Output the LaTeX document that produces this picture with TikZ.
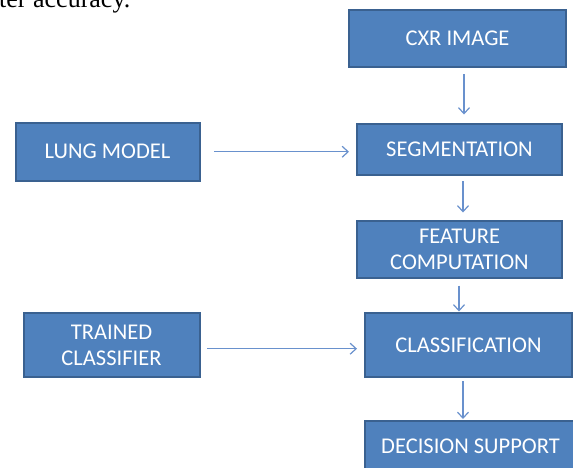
\documentclass[tikz,border=0pt]{standalone}
\usepackage{fontspec}
\setmainfont{Carlito}
\newfontfamily\serifcut{Liberation Serif}
\usetikzlibrary{arrows.meta}
\definecolor{boxfill}{HTML}{4F81BD}
\definecolor{boxline}{HTML}{3A6190}
\definecolor{arrcol}{RGB}{105,145,205}
\tikzset{
  blk/.style={draw=boxline, line width=2pt, fill=boxfill, text=white, align=center,
    inner sep=0pt, font=\fontsize{22.5}{26}\selectfont},
  arr/.style={draw=arrcol, line width=1.2pt, -{Straight Barb[length=6pt,width=11pt]}}
}
\begin{document}
\begin{tikzpicture}[x=1pt,y=-1pt]
\useasboundingbox (0,0) rectangle (573,467);
\clip (0,0) rectangle (573,467);
\node[anchor=base west, inner sep=0pt, font=\serifcut\fontsize{26}{30}\selectfont] (cut) at (-1,7.5) {ter accuracy.};
\node[blk, minimum width=217pt, minimum height=57pt] (cxr) at (457.5,38.5) {CXR IMAGE};
\node[blk, minimum width=205pt, minimum height=51pt] (seg) at (459.5,149) {SEGMENTATION};
\node[blk, minimum width=184pt, minimum height=57.5pt] (lung) at (107.5,151.75) {LUNG MODEL};
\node[blk, minimum width=205pt, minimum height=57pt] (feat) at (459.5,249.5) {FEATURE\\COMPUTATION};
\node[blk, minimum width=207pt, minimum height=64pt] (cls) at (468.5,345) {CLASSIFICATION};
\node[blk, minimum width=176pt, minimum height=64pt] (trn) at (111.5,345) {TRAINED\\CLASSIFIER};
\node[blk, minimum width=212pt, minimum height=52pt] (dec) at (470.5,446.5) {DECISION SUPPORT};
\draw[arr] ([xshift=6.5pt,yshift=-6pt]cxr.south) -- ([xshift=4.5pt,yshift=8pt]seg.north);
\draw[arr] ([xshift=13.5pt]lung.east) -- ([xshift=-7pt,yshift=-2.75pt]seg.west);
\draw[arr] ([xshift=3.5pt,yshift=-5.5pt]seg.south) -- ([xshift=3.5pt,yshift=7.5pt]feat.north);
\draw[arr] ([xshift=-0.5pt,yshift=-6.5pt]feat.south) -- ([xshift=-9.5pt,yshift=0.5pt]cls.north);
\draw[arr] ([xshift=6.5pt,yshift=-3.7pt]trn.east) -- ([xshift=-7pt,yshift=-3.7pt]cls.west);
\draw[arr] ([xshift=-5.5pt,yshift=-3pt]cls.south) -- ([xshift=-7.5pt,yshift=0.5pt]dec.north);
\end{tikzpicture}
\end{document}
